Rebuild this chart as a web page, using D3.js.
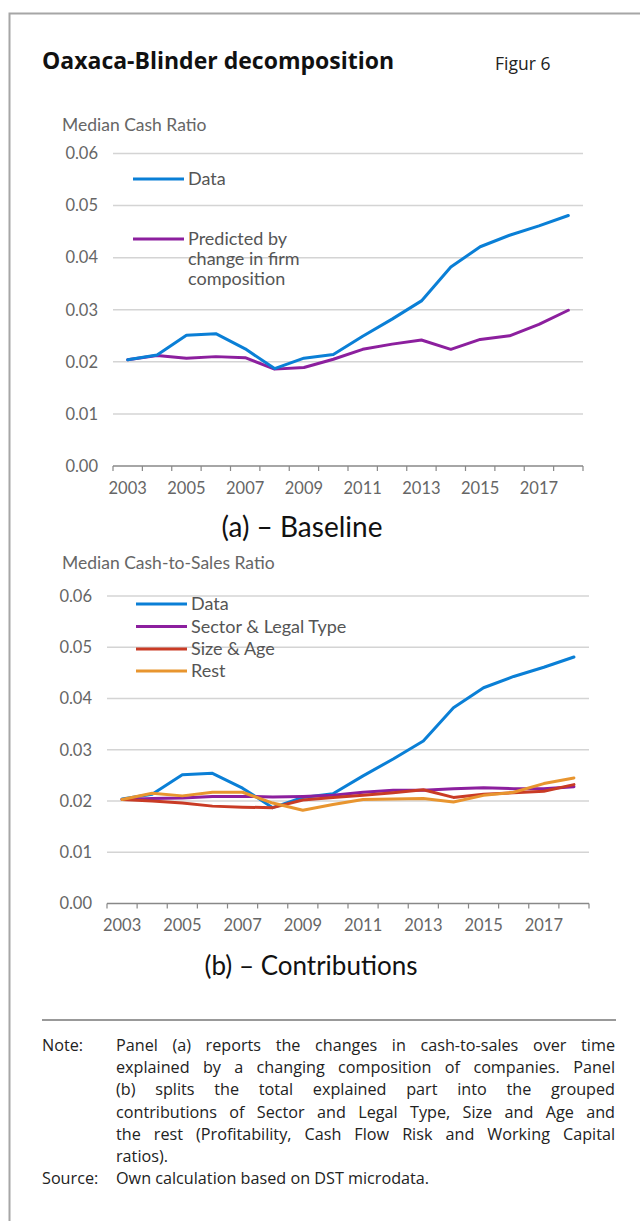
<!DOCTYPE html>
<html>
<head>
<meta charset="utf-8">
<script src="https://cdn.jsdelivr.net/npm/d3@7"></script>
<style>
  body { margin: 0; background: #fff; }
  svg { display: block; }
</style>
</head>
<body>
<div id="chart"></div>
<script>
// years on the x axis
var years = d3.range(2003, 2019);
var yearLabels = ["2003", "2005", "2007", "2009", "2011", "2013", "2015", "2017"];
var yTicks = [0, 0.01, 0.02, 0.03, 0.04, 0.05, 0.06];

// median cash ratio, observed
var dataSeries = [0.0204, 0.0213, 0.0251, 0.0254, 0.0225, 0.0187, 0.0207, 0.0214, 0.0249, 0.0282, 0.0317, 0.0382, 0.0421, 0.0443, 0.0461, 0.0481];
// predicted by change in firm composition
var predicted = [0.0204, 0.0212, 0.0207, 0.0210, 0.0208, 0.0186, 0.0189, 0.0205, 0.0224, 0.0234, 0.0242, 0.0224, 0.0243, 0.0250, 0.0272, 0.0299];
// contributions (panel b)
var sectorLegal = [0.0203, 0.0205, 0.0206, 0.0209, 0.0209, 0.0208, 0.0209, 0.0211, 0.0217, 0.0221, 0.0221, 0.0224, 0.0226, 0.0224, 0.0224, 0.0228];
var sizeAge = [0.0203, 0.0200, 0.0196, 0.0190, 0.0188, 0.0187, 0.0202, 0.0207, 0.0211, 0.0216, 0.0222, 0.0207, 0.0213, 0.0216, 0.0219, 0.0232];
var rest = [0.0203, 0.0215, 0.0210, 0.0217, 0.0217, 0.0196, 0.0182, 0.0193, 0.0203, 0.0204, 0.0205, 0.0198, 0.0211, 0.0217, 0.0234, 0.0245];

var BLUE = "#0a7fd6", PURPLE = "#8c1f9e", RED = "#c93b25", ORANGE = "#e8952f";
var GREY_TXT = "#666";
var FONT = "Lato, 'Open Sans', sans-serif";

var width = 640, height = 1221;

var svg = d3.select("#chart").append("svg")
    .attr("width", width)
    .attr("height", height);

// ramme
svg.append("path")
    .attr("d", "M9.5,1221 V13.5 H640")
    .attr("fill", "none")
    .attr("stroke", "#a6a6a6")
    .attr("stroke-width", 2);

svg.append("text")
    .attr("x", 42).attr("y", 69)
    .text("Oaxaca-Blinder decomposition")
    .style("font-family", "'Open Sans', sans-serif")
    .style("font-weight", "bold")
    .style("font-size", "23px")
    .style("fill", "#111");

svg.append("text")
    .attr("x", 495).attr("y", 70)
    .text("Figur 6")
    .style("font-family", "'Open Sans', sans-serif")
    .style("font-size", "17.5px")
    .style("fill", "#222");

// tegner et panel
function panel(opt) {
    var x = d3.scaleBand().domain(years).range([opt.x0, opt.x1]);
    var y = d3.scaleLinear().domain([0, 0.06]).range([opt.yBottom, opt.yTop]);
    var g = svg.append("g");

    g.append("text")
        .attr("x", 62).attr("y", opt.titleY)
        .text(opt.axisTitle)
        .style("font-family", FONT)
        .style("font-size", "17.5px")
        .style("fill", GREY_TXT);

    // gridlines
    g.selectAll(".grid")
        .data(yTicks.filter(function(d) { return d > 0 }))
        .enter().append("line")
        .attr("x1", opt.x0).attr("x2", opt.x1)
        .attr("y1", function(d) { return y(d) })
        .attr("y2", function(d) { return y(d) })
        .attr("stroke", "#d4d4d4")
        .attr("stroke-width", 1.5);

    g.selectAll(".ylab")
        .data(yTicks)
        .enter().append("text")
        .attr("x", opt.x0 - 15)
        .attr("y", function(d) { return y(d) })
        .attr("dy", "0.35em")
        .attr("text-anchor", "end")
        .text(function(d) { return d3.format(".2f")(d) })
        .style("font-family", FONT)
        .style("font-size", "16.5px")
        .style("fill", GREY_TXT);

    // x axis: ticks at band boundaries
    var bounds = years.map(function(d) { return x(d) }).concat([opt.x1]);
    g.append("line")
        .attr("x1", opt.x0).attr("x2", opt.x1)
        .attr("y1", opt.yBottom).attr("y2", opt.yBottom)
        .attr("stroke", "#888").attr("stroke-width", 1.5);
    g.selectAll(".tick")
        .data(bounds)
        .enter().append("line")
        .attr("x1", function(d) { return d }).attr("x2", function(d) { return d })
        .attr("y1", opt.yBottom).attr("y2", opt.yBottom + 5)
        .attr("stroke", "#888").attr("stroke-width", 1.2);
    g.selectAll(".xlab")
        .data(yearLabels)
        .enter().append("text")
        .attr("x", function(d) { return x(+d) + x.bandwidth() / 2 })
        .attr("y", opt.yBottom + 22)
        .attr("dy", "0.35em")
        .attr("text-anchor", "middle")
        .text(function(d) { return d })
        .style("font-family", FONT)
        .style("font-size", "16.5px")
        .style("fill", GREY_TXT);

    var line = d3.line()
        .x(function(d, i) { return x(years[i]) + x.bandwidth() / 2 })
        .y(function(d) { return y(d) });

    opt.series.forEach(function(s) {
        g.append("path")
            .datum(s.values)
            .attr("d", line)
            .attr("fill", "none")
            .attr("stroke", s.color)
            .attr("stroke-width", 3)
            .attr("stroke-linejoin", "round")
            .attr("stroke-linecap", "round");
    });

    // legend
    opt.legend.forEach(function(l) {
        g.append("line")
            .attr("x1", l.x).attr("x2", l.x + 51)
            .attr("y1", l.y).attr("y2", l.y)
            .attr("stroke", l.color).attr("stroke-width", 3);
        var t = g.append("text")
            .attr("x", l.x + 55).attr("y", l.y)
            .style("font-family", FONT)
            .style("font-size", "18px")
            .style("fill", "#555");
        l.lines.forEach(function(txt, i) {
            t.append("tspan").attr("x", l.x + 55).attr("dy", i == 0 ? "0.35em" : "20px").text(txt);
        });
    });

    g.append("text")
        .attr("x", opt.capX).attr("y", opt.capY)
        .attr("text-anchor", "middle")
        .text(opt.caption)
        .style("font-family", FONT)
        .style("font-size", opt.capSize)
        .style("fill", "#111");
}

panel({
    x0: 113, x1: 583, yTop: 153.5, yBottom: 466,
    titleY: 131, axisTitle: "Median Cash Ratio",
    series: [
        {values: predicted, color: PURPLE},
        {values: dataSeries, color: BLUE}
    ],
    legend: [
        {x: 133, y: 179, color: BLUE, lines: ["Data"]},
        {x: 133, y: 239, color: PURPLE, lines: ["Predicted by", "change in firm", "composition"]}
    ],
    caption: "(a)  \u2013  Baseline", capX: 302, capY: 537, capSize: "28px"
});

panel({
    x0: 107, x1: 589, yTop: 596, yBottom: 903.5,
    titleY: 569, axisTitle: "Median Cash-to-Sales Ratio",
    series: [
        {values: dataSeries, color: BLUE},
        {values: sectorLegal, color: PURPLE},
        {values: sizeAge, color: RED},
        {values: rest, color: ORANGE}
    ],
    legend: [
        {x: 136, y: 604, color: BLUE, lines: ["Data"]},
        {x: 136, y: 626.5, color: PURPLE, lines: ["Sector & Legal Type"]},
        {x: 136, y: 649, color: RED, lines: ["Size & Age"]},
        {x: 136, y: 671, color: ORANGE, lines: ["Rest"]}
    ],
    caption: "(b) \u2013 Contributions", capX: 311, capY: 975, capSize: "26px"
});

// note
svg.append("line")
    .attr("x1", 42).attr("x2", 616)
    .attr("y1", 1020).attr("y2", 1020)
    .attr("stroke", "#999").attr("stroke-width", 2);

var noteLines = [
    "Panel (a) reports the changes in cash-to-sales over time",
    "explained by a changing composition of companies. Panel",
    "(b) splits the total explained part into the grouped",
    "contributions of Sector and Legal Type, Size and Age and",
    "the rest (Profitability, Cash Flow Risk and Working Capital",
    "ratios)."
];
var noteFont = "'Open Sans', sans-serif";

function noteText(x, y, txt) {
    return svg.append("text")
        .attr("x", x).attr("y", y)
        .text(txt)
        .style("font-family", noteFont)
        .style("font-size", "16.2px")
        .style("fill", "#222");
}

noteText(42, 1051, "Note:");
noteText(42, 1184, "Source:");
noteText(116, 1184, "Own calculation based on DST microdata.");

// justify each line word by word
noteLines.forEach(function(ln, i) {
    var yy = 1051 + i * 22.2;
    if (i == noteLines.length - 1) { noteText(116, yy, ln); return; }
    var words = ln.split(" ");
    var widths = words.map(function(w) {
        var t = noteText(0, -100, w);
        var wd = t.node().getComputedTextLength();
        t.remove();
        return wd;
    });
    var total = d3.sum(widths);
    var gap = (615 - 116 - total) / (words.length - 1);
    var xx = 116;
    words.forEach(function(w, j) {
        noteText(xx, yy, w);
        xx += widths[j] + gap;
    });
});
</script>
</body>
</html>
